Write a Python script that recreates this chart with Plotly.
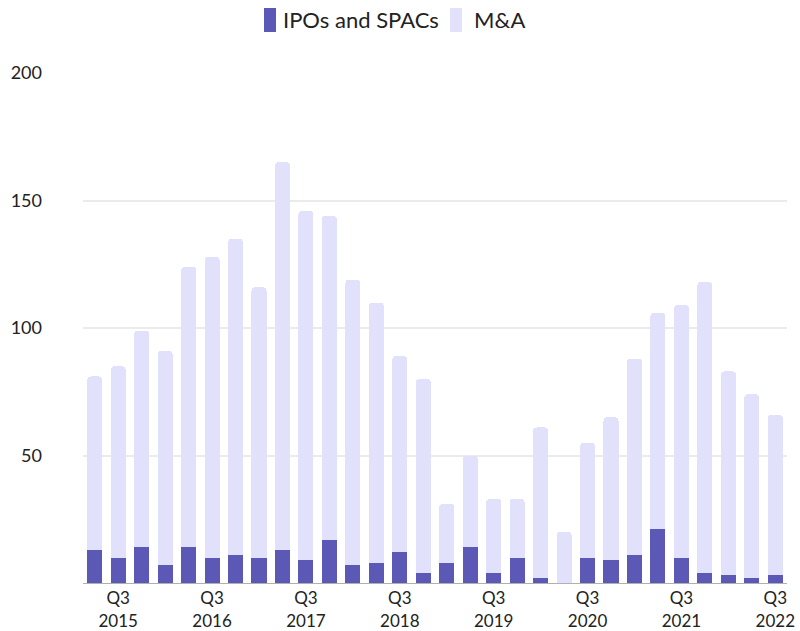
import plotly.graph_objects as go

quarters = ["Q2 2015","Q3 2015","Q4 2015",
            "Q1 2016","Q2 2016","Q3 2016","Q4 2016",
            "Q1 2017","Q2 2017","Q3 2017","Q4 2017",
            "Q1 2018","Q2 2018","Q3 2018","Q4 2018",
            "Q1 2019","Q2 2019","Q3 2019","Q4 2019",
            "Q1 2020","Q2 2020","Q3 2020","Q4 2020",
            "Q1 2021","Q2 2021","Q3 2021","Q4 2021",
            "Q1 2022","Q2 2022","Q3 2022"]
ipos_spacs = [13, 10, 14, 7, 14, 10, 11, 10, 13, 9, 17, 7, 8, 12, 4,
              8, 14, 4, 10, 2, 0, 10, 9, 11, 21, 10, 4, 3, 2, 3]
totals = [81, 85, 99, 91, 124, 128, 135, 116, 165, 146, 144, 119, 110, 89, 80,
          31, 50, 33, 33, 61, 20, 55, 65, 88, 106, 109, 118, 83, 74, 66]
m_and_a = [t - i for t, i in zip(totals, ipos_spacs)]

tick_vals = ["Q3 2015","Q3 2016","Q3 2017","Q3 2018","Q3 2019","Q3 2020","Q3 2021","Q3 2022"]
tick_text = ["Q3<br>2015","Q3<br>2016","Q3<br>2017","Q3<br>2018","Q3<br>2019","Q3<br>2020","Q3<br>2021","Q3<br>2022"]

series_names = ["IPOs and SPACs", "M&A"]
series_colors = ["#5b59b5", "#e1e1fb"]

W, H = 800, 631
ML, MR, MT, MB = 83, 13, 73, 48

fig = go.Figure()
fig.add_trace(go.Bar(x=quarters, y=ipos_spacs, name=series_names[0],
                     marker=dict(color=series_colors[0], line=dict(width=0))))
fig.add_trace(go.Bar(x=quarters, y=m_and_a, name=series_names[1],
                     marker=dict(color=series_colors[1], line=dict(width=0))))

# legend drawn as swatches + text at the top centre
pw, ph = W - ML - MR, H - MT - MB
def px_x(p):
    return (p - ML) / pw
def px_y(p):
    return (H - MB - p) / ph

legend_items = [(264, 281), (450, 472)]
for (sx, tx), name, col in zip(legend_items, series_names, series_colors):
    fig.add_shape(type="rect", xref="paper", yref="paper",
                  x0=px_x(sx), x1=px_x(sx + 12), y0=px_y(32), y1=px_y(8),
                  fillcolor=col, line=dict(width=0), layer="above")
    fig.add_annotation(xref="paper", yref="paper", x=px_x(tx), y=px_y(20),
                       xanchor="left", yanchor="middle", showarrow=False,
                       text=name, font=dict(size=22, color="#222"))

fig.update_layout(
    width=W, height=H,
    barmode="stack", bargap=0.36, barcornerradius=4,
    paper_bgcolor="white", plot_bgcolor="white",
    margin=dict(l=ML, r=MR, t=MT, b=MB, autoexpand=False),
    font=dict(family="Lato, sans-serif", size=18, color="#222"),
    showlegend=False,
)
fig.update_xaxes(type="category", tickmode="array", tickvals=tick_vals, ticktext=tick_text,
                 showgrid=False, showline=True, linecolor="#b0b0b0", linewidth=1,
                 ticks="", automargin=False, ticklabelstandoff=0,
                 tickfont=dict(size=17, color="#222"))
fig.update_yaxes(range=[0, 200], tickvals=[50, 100, 150, 200], showgrid=True,
                 gridcolor="#ebebeb", gridwidth=2, zeroline=False, showline=False,
                 ticks="", automargin=False, ticklabelstandoff=40,
                 tickfont=dict(size=18, color="#222"))

fig.write_html("out.html", config={"displayModeBar": False},
               post_script="document.body.style.margin='0';document.body.style.overflow='hidden';")
